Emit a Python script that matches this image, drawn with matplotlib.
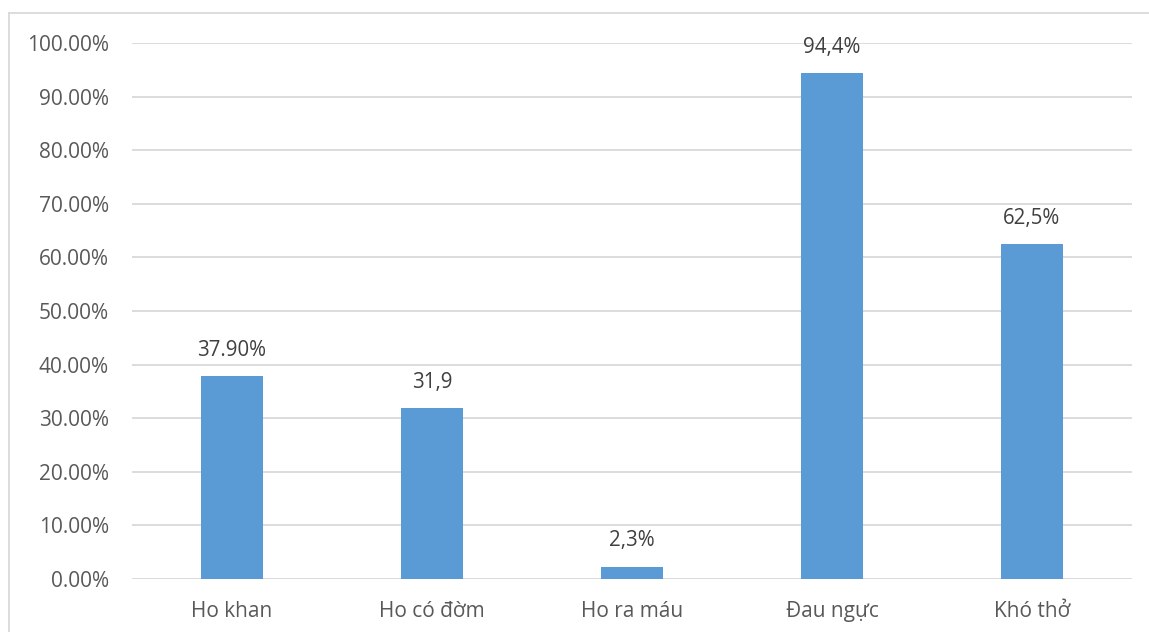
import matplotlib
matplotlib.use("Agg")
import matplotlib.pyplot as plt
from matplotlib.lines import Line2D

plt.rcParams['font.family'] = ['Open Sans', 'DejaVu Sans']

categories = ["Ho khan", "Ho có đờm", "Ho ra máu", "Đau ngực", "Khó thở"]
values = [37.9, 31.9, 2.3, 94.4, 62.5]
value_labels = ["37.90%", "31,9", "2,3%", "94,4%", "62,5%"]
yticks = [0, 10, 20, 30, 40, 50, 60, 70, 80, 90, 100]

W, H = 1149, 632
fig = plt.figure(figsize=(W / 100, H / 100), dpi=100)
ax = fig.add_axes([132 / W, 53 / H, 1000 / W, 536 / H])

x = range(len(categories))
ax.bar(x, values, width=0.31, color='#5b9bd5', zorder=3)

for xi, v, lab in zip(x, values, value_labels):
    ax.annotate(lab, (xi, v), xytext=(0, 11), textcoords='offset points',
                ha='center', va='bottom', fontsize=14.8, color='#404040')

ax.set_xlim(-0.5, len(categories) - 0.5)
ax.set_ylim(0, 100)
ax.set_yticks(yticks)
ax.set_yticklabels([f"{t:.2f}%" for t in yticks])
ax.set_xticks(list(x))
ax.set_xticklabels(categories)
ax.tick_params(axis='both', length=0, labelsize=15, colors='#595959')
ax.tick_params(axis='x', pad=15.5)
ax.tick_params(axis='y', pad=16.5)
ax.grid(axis='y', color='#d9d9d9', linewidth=1.3, zorder=0)
for s in ax.spines.values():
    s.set_visible(False)

# chart area frame (cropped at right and bottom)
fig.add_artist(Line2D([9 / W, 1], [1 - 13 / H, 1 - 13 / H], color='#d9d9d9', lw=1.3))
fig.add_artist(Line2D([9 / W, 9 / W], [0, 1 - 13 / H], color='#d9d9d9', lw=1.3))

fig.savefig("out.png", dpi=100)
